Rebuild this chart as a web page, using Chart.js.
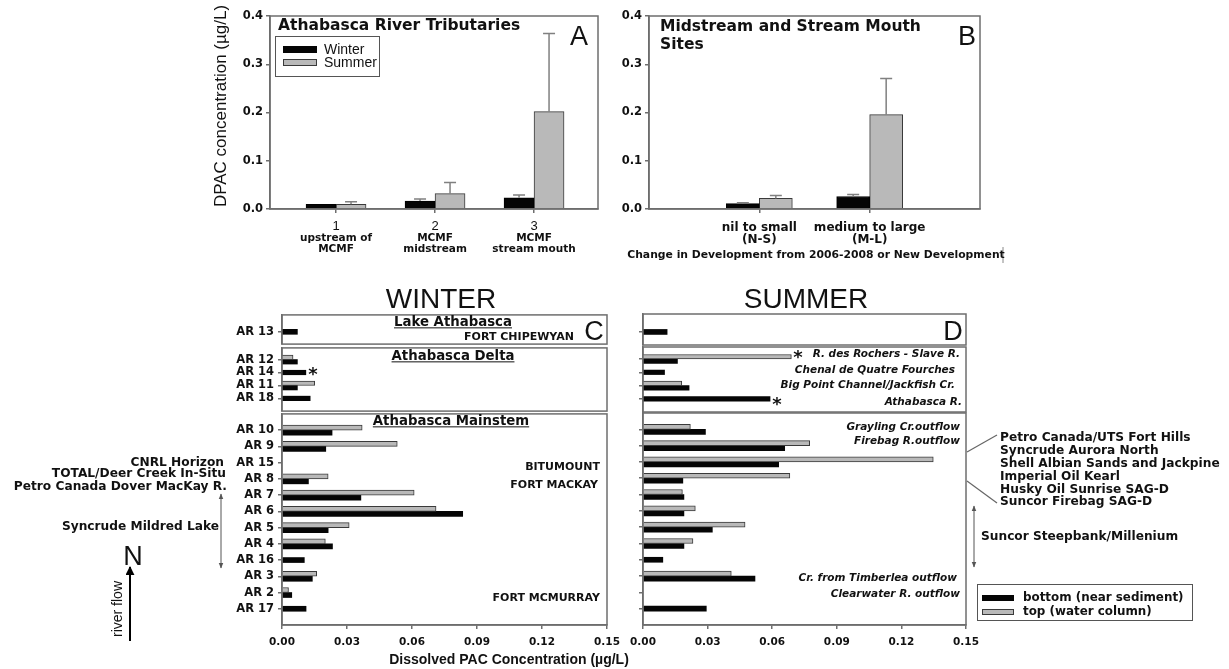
<!DOCTYPE html>
<html>
<head>
<meta charset="utf-8">
<title>Dissolved PAC concentrations, Athabasca River</title>
<script src="https://cdn.jsdelivr.net/npm/chart.js@4.4.1/dist/chart.umd.min.js"></script>
<style>
  html, body { margin: 0; padding: 0; background: #fff; }
  body { position: relative; width: 1229px; height: 669px; overflow: hidden; font-family: "Liberation Sans", Arial, sans-serif; color: #111; }
  .chart { position: absolute; }
  .t { position: absolute; white-space: nowrap; line-height: 1; }
  .sw { position: absolute; box-sizing: border-box; }
  svg { position: absolute; left: 0; top: 0; }
</style>
</head>
<body>
<div class="chart" style="left:205px;top:0;width:413px;height:262px"><canvas id="chartA"></canvas></div>
<div class="chart" style="left:600px;top:0;width:400px;height:262px"><canvas id="chartB"></canvas></div>

<div class="chart" style="left:220px;top:304px;width:407px;height:51px"><canvas id="winterLake"></canvas></div>
<div class="chart" style="left:220px;top:337px;width:407px;height:85px"><canvas id="winterDelta"></canvas></div>
<div class="chart" style="left:220px;top:403px;width:407px;height:262px"><canvas id="winterMain"></canvas></div>

<div class="chart" style="left:623px;top:304px;width:363px;height:51px"><canvas id="summerLake"></canvas></div>
<div class="chart" style="left:623px;top:337px;width:363px;height:85px"><canvas id="summerDelta"></canvas></div>
<div class="chart" style="left:623px;top:403px;width:363px;height:262px"><canvas id="summerMain"></canvas></div>

<svg width="1229" height="669" viewBox="0 0 1229 669">
  <defs>
    <marker id="ah" viewBox="0 0 10 10" refX="9" refY="5" markerWidth="6" markerHeight="6" orient="auto-start-reverse">
      <path d="M0,1 L10,5 L0,9 z" fill="#555"/>
    </marker>
    <marker id="ahk" viewBox="0 0 10 10" refX="9" refY="5" markerWidth="4.5" markerHeight="4.5" orient="auto">
      <path d="M0,0 L10,5 L0,10 z" fill="#000"/>
    </marker>
  </defs>
  <line x1="221" y1="494" x2="221" y2="568" stroke="#555" stroke-width="1" marker-start="url(#ah)" marker-end="url(#ah)"/>
  <line x1="974" y1="506" x2="974" y2="567" stroke="#555" stroke-width="1" marker-start="url(#ah)" marker-end="url(#ah)"/>
  <line x1="130" y1="641" x2="130" y2="567" stroke="#000" stroke-width="2" marker-end="url(#ahk)"/>
  <line x1="967" y1="452" x2="997" y2="435" stroke="#666" stroke-width="1.2"/>
  <line x1="967" y1="481" x2="997" y2="503" stroke="#666" stroke-width="1.2"/>
  <line x1="1003" y1="247" x2="1003" y2="263" stroke="#888" stroke-width="1"/>
</svg>

<script>
// ---- panel A : tributaries (winter vs summer, mean + error) ----
const tribCats = [1, 2, 3];
const tribSub = [['upstream of', 'MCMF'], ['MCMF', 'midstream'], ['MCMF', 'stream mouth']];
const tribWinter = [0.0096, 0.0165, 0.0234];
const tribWinterErr = [0, 0.0042, 0.0056];
const tribSummer = [0.0096, 0.0317, 0.2017];
const tribSummerErr = [0.0054, 0.0233, 0.1618];

// ---- panel B : change in development ----
const devCats = [['nil to small', '(N-S)'], ['medium to large', '(M-L)']];
const devWinter = [0.011, 0.026];
const devWinterErr = [0.002, 0.004];
const devSummer = [0.022, 0.1955];
const devSummerErr = [0.006, 0.075];
const concTicks = [0, 0.1, 0.2, 0.3, 0.4];

// ---- panels C / D : sites, north (top) to south ----
const lakeSites = ['AR 13'];
const deltaSites = ['AR 12', 'AR 14', 'AR 11', 'AR 18'];
const mainSites = ['AR 10', 'AR 9', 'AR 15', 'AR 8', 'AR 7', 'AR 6', 'AR 5', 'AR 4', 'AR 16', 'AR 3', 'AR 2', 'AR 17'];

const lakeWinterTop = [null];
const lakeWinterBottom = [0.0071];
const deltaWinterTop = [0.0051, null, 0.0151, null];
const deltaWinterBottom = [0.0071, 0.011, 0.0071, 0.013];
const mainWinterTop = [0.037, 0.0532, null, 0.0213, 0.061, 0.0711, 0.031, 0.020, null, 0.016, 0.003, null];
const mainWinterBottom = [0.0231, 0.0202, null, 0.0122, 0.0364, 0.0834, 0.0213, 0.0233, 0.0103, 0.014, 0.0045, 0.0111];

const lakeSummerTop = [null];
const lakeSummerBottom = [0.0112];
const deltaSummerTop = [0.0689, null, 0.018, null];
const deltaSummerBottom = [0.016, 0.010, 0.0214, 0.059];
const mainSummerTop = [0.022, 0.0774, 0.1348, 0.0682, 0.0183, 0.0243, 0.0474, 0.0232, null, 0.041, null, null];
const mainSummerBottom = [0.029, 0.0658, 0.063, 0.0185, 0.019, 0.019, 0.0322, 0.019, 0.0092, 0.052, null, 0.0294];
const pacTicks = [0, 0.03, 0.06, 0.09, 0.12, 0.15];

// ---- look ----
const AXIS = '#6e6e6e';
const DARK = '#050505';
const GREY = '#b9b9b9';
const EDGE = '#3a3a3a';
const BOLD = '"DejaVu Sans", sans-serif';

Chart.defaults.animation = false;
Chart.defaults.color = '#111';
Chart.defaults.font.family = BOLD;
Chart.defaults.font.weight = 'bold';
Chart.defaults.font.size = 11.5;
Chart.defaults.maintainAspectRatio = false;
Chart.defaults.plugins.legend.display = false;
Chart.defaults.plugins.tooltip.enabled = false;

const grid = { drawOnChartArea: false, offset: false, tickLength: 4, color: AXIS, lineWidth: 1.5 };
const border = { color: AXIS, width: 1.5 };

// box round the plot area
const framePlugin = {
  id: 'frame',
  afterDraw(chart) {
    const { ctx, chartArea: a } = chart;
    ctx.save();
    ctx.strokeStyle = AXIS;
    ctx.lineWidth = 1.5;
    ctx.strokeRect(a.left, a.top, a.right - a.left, a.bottom - a.top);
    ctx.restore();
  }
};

// upward error bars, read from dataset.errors
const errorBarPlugin = {
  id: 'errbars',
  afterDatasetsDraw(chart) {
    const { ctx } = chart;
    const y = chart.scales.y;
    ctx.save();
    ctx.strokeStyle = '#808080';
    ctx.lineWidth = 1.5;
    chart.data.datasets.forEach((ds, di) => {
      chart.getDatasetMeta(di).data.forEach((bar, i) => {
        const e = ds.errors[i];
        if (!e) return;
        const top = y.getPixelForValue(ds.data[i].y + e);
        ctx.beginPath();
        ctx.moveTo(bar.x, bar.y);
        ctx.lineTo(bar.x, top);
        ctx.moveTo(bar.x - 6, top);
        ctx.lineTo(bar.x + 6, top);
        ctx.stroke();
      });
    });
    ctx.restore();
  }
};

// small bold lines under the category numbers of panel A
const subLabelPlugin = {
  id: 'sublabels',
  afterDraw(chart, args, opts) {
    const { ctx } = chart;
    const x = chart.scales.x;
    ctx.save();
    ctx.font = 'bold 10.5px ' + BOLD;
    ctx.fillStyle = '#111';
    ctx.textAlign = 'center';
    ctx.textBaseline = 'middle';
    opts.lines.forEach((lines, i) => {
      const px = x.getPixelForValue(opts.values[i]);
      lines.forEach((t, j) => ctx.fillText(t, px, opts.y0 + j * opts.dy));
    });
    ctx.restore();
  }
};

function seasonBars(id, xs, winter, winterErr, summer, summerErr, xRange, xTickLabel, xTickFont, xPad, yWidth, thick, extraPlugins, pluginOpts) {
  return new Chart(document.getElementById(id), {
    type: 'bar',
    data: {
      datasets: [
        { label: 'Winter', data: xs.map((x, i) => ({ x: x, y: winter[i] })), errors: winterErr,
          backgroundColor: DARK, borderColor: '#000', borderWidth: 1, barThickness: thick },
        { label: 'Summer', data: xs.map((x, i) => ({ x: x, y: summer[i] })), errors: summerErr,
          backgroundColor: GREY, borderColor: EDGE, borderWidth: 1, barThickness: thick }
      ]
    },
    options: {
      layout: { padding: { top: 16, right: 20, left: 0, bottom: 0 } },
      scales: {
        x: {
          type: 'linear', min: xRange[0], max: xRange[1], offset: false, grid, border,
          afterBuildTicks: s => { s.ticks = xs.map(v => ({ value: v })); },
          afterFit: s => { s.height = 53; },
          ticks: { padding: xPad, font: xTickFont, callback: xTickLabel }
        },
        y: {
          min: 0, max: 0.4, grid, border,
          afterBuildTicks: s => { s.ticks = concTicks.map(v => ({ value: v })); },
          afterFit: s => { s.width = yWidth; },
          ticks: { padding: 3, callback: v => v.toFixed(1) }
        }
      },
      plugins: pluginOpts
    },
    plugins: [framePlugin, errorBarPlugin].concat(extraPlugins)
  });
}

seasonBars('chartA', tribCats, tribWinter, tribWinterErr, tribSummer, tribSummerErr,
  [0.333, 3.646], v => String(v),
  { family: '"Liberation Sans", Arial, sans-serif', weight: 'normal', size: 13, lineHeight: 1.1 },
  6, 65, 30, [subLabelPlugin],
  { sublabels: { lines: tribSub, values: tribCats, y0: 238, dy: 11 } });

seasonBars('chartB', devCats.map((c, i) => i + 1), devWinter, devWinterErr, devSummer, devSummerErr,
  [0, 3], v => devCats[v - 1],
  { family: BOLD, weight: 'bold', size: 12, lineHeight: 1.0 },
  9, 49, 33, [], {});

function siteChart(id, sites, top, bottom, range, showX, showY, yWidth, thick) {
  return new Chart(document.getElementById(id), {
    type: 'bar',
    data: {
      datasets: [
        { label: 'top (water column)', data: sites.map((s, i) => ({ x: top[i], y: i })),
          backgroundColor: GREY, borderColor: EDGE, borderWidth: 1, barThickness: thick, skipNull: true },
        { label: 'bottom (near sediment)', data: sites.map((s, i) => ({ x: bottom[i], y: i })),
          backgroundColor: DARK, borderWidth: 0, barThickness: thick, skipNull: true }
      ]
    },
    options: {
      indexAxis: 'y',
      layout: { padding: { top: 10, bottom: showX ? 0 : 10, right: 20, left: 0 } },
      scales: {
        x: {
          type: 'linear', min: 0, max: 0.15, display: showX, grid, border,
          afterBuildTicks: s => { s.ticks = pacTicks.map(v => ({ value: v })); },
          afterFit: s => { if (showX) s.height = 40; },
          ticks: { padding: 7, font: { size: 10.5 }, callback: v => v.toFixed(2) }
        },
        y: {
          type: 'linear', reverse: true, min: range[0], max: range[1], offset: false, grid, border,
          afterBuildTicks: s => { s.ticks = sites.map((_, i) => ({ value: i })); },
          afterFit: s => { s.width = yWidth; },
          ticks: { display: showY, padding: 4, callback: v => sites[v] }
        }
      }
    },
    plugins: [framePlugin]
  });
}

siteChart('winterLake', lakeSites, lakeWinterTop, lakeWinterBottom, [-1.1, 0.8], false, true, 62, 5);
siteChart('winterDelta', deltaSites, deltaWinterTop, deltaWinterBottom, [-0.9, 3.98], false, true, 62, 4.5);
siteChart('winterMain', mainSites, mainWinterTop, mainWinterBottom, [-1, 12], true, true, 62, 5);
siteChart('summerLake', lakeSites, lakeSummerTop, lakeSummerBottom, [-1.1, 0.8], false, false, 20, 5);
siteChart('summerDelta', deltaSites, deltaSummerTop, deltaSummerBottom, [-0.9, 3.98], false, false, 20, 4.5);
siteChart('summerMain', mainSites, mainSummerTop, mainSummerBottom, [-1, 12], true, false, 20, 5);

// ---- text and legends ----
const B = 'font-family:"DejaVu Sans",sans-serif;font-weight:bold;';
const BI = B + 'font-style:italic;';
const R = 'font-family:"Liberation Sans",Arial,sans-serif;';

function put(text, x, y, css, align, rotate) {
  const d = document.createElement('div');
  d.className = 't';
  d.textContent = text;
  d.style.cssText += css;
  d.style.left = x + 'px';
  d.style.top = y + 'px';
  const tx = align === 'right' ? '-100%' : align === 'center' ? '-50%' : '0';
  d.style.transform = `translate(${tx}, -50%)` + (rotate ? ' rotate(-90deg)' : '');
  document.body.appendChild(d);
}
function swatch(x, y, w, h, fill, edge) {
  const d = document.createElement('div');
  d.className = 'sw';
  d.style.cssText = `left:${x}px;top:${y}px;width:${w}px;height:${h}px;background:${fill};` +
    (edge ? `border:1px solid ${edge};` : '');
  document.body.appendChild(d);
}

// panel A / B
put('Athabasca River Tributaries', 278, 26, B + 'font-size:15.5px', 'left');
put('A', 579, 36, R + 'font-size:27px', 'center');
swatch(275, 36, 105, 41, 'transparent', '#555');
swatch(283, 46, 34, 7, DARK);
put('Winter', 324, 49, R + 'font-size:14px', 'left');
swatch(283, 59, 34, 7, GREY, EDGE);
put('Summer', 324, 62, R + 'font-size:14px', 'left');
put('DPAC concentration (\u00b5g/L)', 220, 106, R + 'font-size:17px', 'center', true);

put('Midstream and Stream Mouth', 660, 27, B + 'font-size:15.5px', 'left');
put('Sites', 660, 45, B + 'font-size:15.5px', 'left');
put('B', 967, 36, R + 'font-size:27px', 'center');
put('Change in Development from 2006-2008 or New Development', 816, 255, B + 'font-size:10.8px', 'center');

// panel C
put('WINTER', 441, 299, R + 'font-size:28px', 'center');
put('C', 594, 331, R + 'font-size:27px', 'center');
put('Lake Athabasca', 453, 322, B + 'font-size:13.3px;text-decoration:underline', 'center');
put('FORT CHIPEWYAN', 574, 336, B + 'font-size:11px', 'right');
put('Athabasca Delta', 453, 356, B + 'font-size:13.3px;text-decoration:underline', 'center');
put('*', 313, 374, B + 'font-size:18px', 'center');
put('Athabasca Mainstem', 451, 421, B + 'font-size:13.3px;text-decoration:underline', 'center');
put('BITUMOUNT', 600, 466, B + 'font-size:11px', 'right');
put('FORT MACKAY', 598, 484, B + 'font-size:11px', 'right');
put('FORT MCMURRAY', 600, 597, B + 'font-size:11px', 'right');

// left annotations
put('CNRL Horizon', 224, 462, B + 'font-size:12.2px', 'right');
put('TOTAL/Deer Creek In-Situ', 226, 473, B + 'font-size:12.2px', 'right');
put('Petro Canada Dover MacKay R.', 227, 486, B + 'font-size:12.2px', 'right');
put('Syncrude Mildred Lake', 219, 526, B + 'font-size:12.2px', 'right');
put('N', 133, 556, R + 'font-size:27px', 'center');
put('river flow', 117, 609, R + 'font-size:14px', 'center', true);

// panel D
put('SUMMER', 806, 299, R + 'font-size:28px', 'center');
put('D', 953, 331, R + 'font-size:27px', 'center');
put('*', 798, 357, B + 'font-size:18px', 'center');
put('R. des Rochers - Slave R.', 960, 353, BI + 'font-size:10.5px', 'right');
put('Chenal de Quatre Fourches', 955, 369, BI + 'font-size:10.5px', 'right');
put('Big Point Channel/Jackfish Cr.', 955, 384, BI + 'font-size:10.5px', 'right');
put('*', 777, 404, B + 'font-size:18px', 'center');
put('Athabasca R.', 962, 401, BI + 'font-size:10.5px', 'right');
put('Grayling Cr.outflow', 960, 426, BI + 'font-size:10.5px', 'right');
put('Firebag R.outflow', 960, 440, BI + 'font-size:10.5px', 'right');
put('Cr. from Timberlea outflow', 957, 577, BI + 'font-size:10.5px', 'right');
put('Clearwater R. outflow', 960, 593, BI + 'font-size:10.5px', 'right');

// right annotations
put('Petro Canada/UTS Fort Hills', 1000, 437, B + 'font-size:12.2px', 'left');
put('Syncrude Aurora North', 1000, 450, B + 'font-size:12.2px', 'left');
put('Shell Albian Sands and Jackpine', 1000, 463, B + 'font-size:12.2px', 'left');
put('Imperial Oil Kearl', 1000, 476, B + 'font-size:12.2px', 'left');
put('Husky Oil Sunrise SAG-D', 1000, 489, B + 'font-size:12.2px', 'left');
put('Suncor Firebag SAG-D', 1000, 501, B + 'font-size:12.2px', 'left');
put('Suncor Steepbank/Millenium', 981, 536, B + 'font-size:12.2px', 'left');

// legend D
swatch(977, 584, 216, 37, 'transparent', '#555');
swatch(982, 595, 32, 6, DARK);
put('bottom (near sediment)', 1023, 598, B + 'font-size:11.9px', 'left');
swatch(982, 609, 32, 6, GREY, EDGE);
put('top (water column)', 1023, 612, B + 'font-size:11.9px', 'left');

put('Dissolved PAC Concentration (\u00b5g/L)', 509, 659, R + 'font-weight:bold;font-size:14px', 'center');
</script>
</body>
</html>
